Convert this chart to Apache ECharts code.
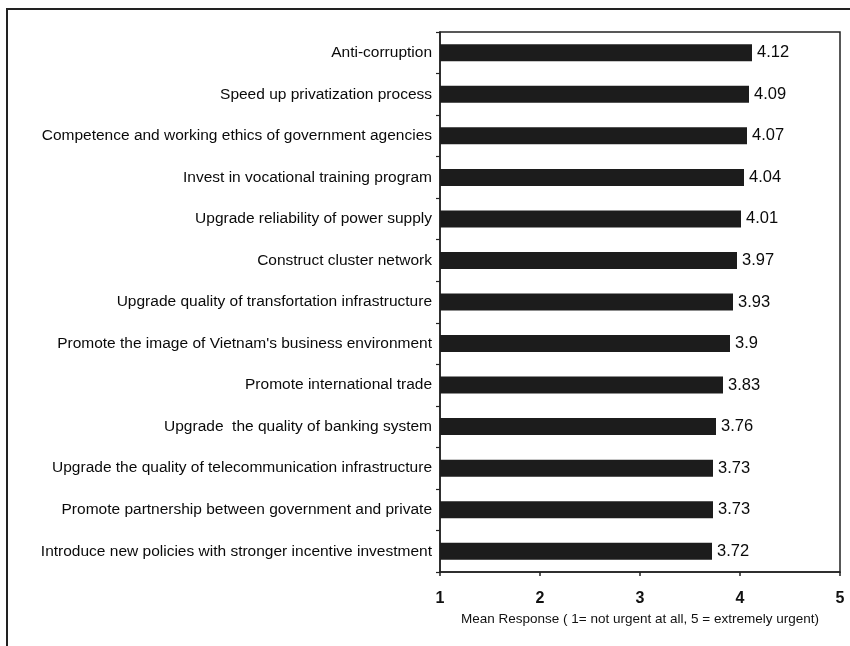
<!DOCTYPE html>
<html><head><meta charset="utf-8">
<script src="https://cdn.jsdelivr.net/npm/echarts@6/dist/echarts.min.js"></script>
<style>html,body{margin:0;padding:0;background:#fff}#c{width:850px;height:646px}</style>
</head><body><div id="c"></div>
<script>
const categories = [
  "Anti-corruption",
  "Speed up privatization process",
  "Competence and working ethics of government agencies",
  "Invest in vocational training program",
  "Upgrade reliability of power supply",
  "Construct cluster network",
  "Upgrade quality of transfortation infrastructure",
  "Promote the image of Vietnam's business environment",
  "Promote international trade",
  "Upgrade  the quality of banking system",
  "Upgrade the quality of telecommunication infrastructure",
  "Promote partnership between government and private",
  "Introduce new policies with stronger incentive investment"
];
const values = [4.12, 4.09, 4.07, 4.04, 4.01, 3.97, 3.93, 3.9, 3.83, 3.76, 3.73, 3.73, 3.72];
const xTicks = [1, 2, 3, 4, 5];
const xTitle = "Mean Response ( 1= not urgent at all, 5 = extremely urgent)";

const FF = 'Liberation Sans, Arial, sans-serif';
const chart = echarts.init(document.getElementById('c'), null, {renderer: 'canvas'});
chart.setOption({
  animation: false,
  backgroundColor: '#fff',
  graphic: [{
    type: 'rect', shape: {x: 7, y: 9, width: 900, height: 700},
    style: {fill: 'none', stroke: '#222', lineWidth: 2}, z: -1
  }],
  grid: {left: 440, right: 10, top: 32, bottom: 74, show: true, borderColor: '#222', borderWidth: 1.5, backgroundColor: 'transparent'},
  xAxis: {
    type: 'value', min: 1, max: 5, interval: 1,
    splitLine: {show: false},
    axisLine: {show: true, lineStyle: {color: '#222', width: 1.5}},
    axisTick: {show: true, length: 4, lineStyle: {color: '#222', width: 1.5}},
    axisLabel: {color: '#111', fontSize: 16, fontWeight: 'bold', fontFamily: FF, margin: 19,
      formatter: v => xTicks.includes(v) ? String(v) : ''},
    name: xTitle, nameLocation: 'middle', nameGap: 39,
    nameTextStyle: {color: '#111', fontSize: 13.5, fontFamily: FF}
  },
  yAxis: {
    type: 'category', data: categories, inverse: true,
    axisLine: {show: true, lineStyle: {color: '#222', width: 1.5}},
    axisTick: {show: true, length: 4, lineStyle: {color: '#222', width: 1.2}},
    axisLabel: {color: '#0a0a0a', fontSize: 15.5, fontFamily: FF, margin: 8}
  },
  series: [{
    type: 'bar', data: values, barWidth: 17,
    itemStyle: {color: '#1c1c1c'},
    label: {show: true, position: 'right', distance: 5, color: '#0a0a0a', fontSize: 16.5,
      fontFamily: FF, formatter: p => String(p.value)}
  }]
});
</script></body></html>
